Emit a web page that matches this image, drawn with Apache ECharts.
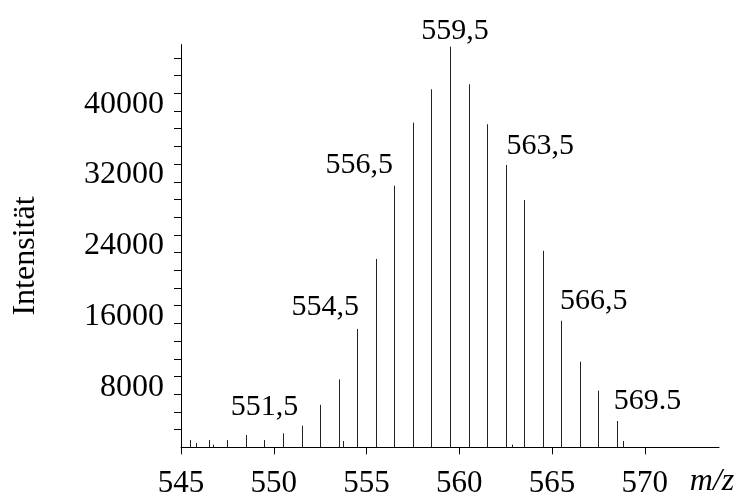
<!DOCTYPE html>
<html>
<head>
<meta charset="utf-8">
<script src="https://cdn.jsdelivr.net/npm/echarts@6/dist/echarts.min.js"></script>
<style>
  html, body { margin: 0; padding: 0; background: #fff; }
  #chart { width: 741px; height: 504px; }
</style>
</head>
<body>
<div id="chart"></div>
<script>
// Isotope pattern: main peaks (m/z, intensity)
const peakMz = [545.5, 546.5, 547.5, 548.5, 549.5, 550.5, 551.5, 552.5, 553.5, 554.5, 555.5, 556.5,
                557.5, 558.5, 559.5, 560.5, 561.5, 562.5, 563.5, 564.5, 565.5, 566.5, 567.5, 568.5];
const peakInt = [820, 820, 820, 1390, 820, 1580, 2440, 4800, 7680, 13370, 21280, 29560,
                 36680, 40450, 45270, 41020, 36500, 31900, 27940, 22200, 14300, 9670, 6400, 2970];

// Small satellite signals
const minorMz = [545.82, 546.73, 553.72, 562.84, 568.82];
const minorInt = [490, 300, 710, 300, 710];

// Annotated peak labels
const labelMz = [551.5, 554.5, 556.5, 559.5, 563.5, 566.5, 569.5];
const labelText = ['551,5', '554,5', '556,5', '559,5', '563,5', '566,5', '569.5'];

// Axis ticks
const xTicks = [545, 550, 555, 560, 565, 570];
const yLabels = [8000, 16000, 24000, 32000, 40000];
const yTickMarks = [2000, 4000, 6000, 8000, 10000, 12000, 14000, 16000, 18000, 20000, 22000,
                    24000, 26000, 28000, 30000, 32000, 34000, 36000, 38000, 40000, 42000, 44000];

// Pixel offsets of each annotation relative to its peak top
const labelOffset = [[-37, -19], [-32, -22], [-35, -21], [5, -16], [16, -54], [14, -61], [12, -46]];

const FONT = '"Liberation Serif", "Times New Roman", serif';

const stickData = [];
peakMz.forEach((m, i) => stickData.push([m, peakInt[i]]));
minorMz.forEach((m, i) => stickData.push([m, minorInt[i]]));

const labelData = labelMz.map((m, i) => {
  const k = peakMz.indexOf(m);
  return {
    value: [m, k >= 0 ? peakInt[k] : 0],
    label: { offset: labelOffset[i] }
  };
});

const chart = echarts.init(document.getElementById('chart'), null, { renderer: 'canvas' });

chart.setOption({
  animation: false,
  backgroundColor: '#fff',
  grid: { left: 181, right: 22, top: 44.6, bottom: 56.7 },
  xAxis: {
    type: 'value',
    min: 545,
    max: 574,
    interval: 5,
    axisLine: { show: true, lineStyle: { color: '#000', width: 1 } },
    axisTick: { show: true, customValues: xTicks, length: 7, lineStyle: { color: '#000' } },
    axisLabel: {
      customValues: xTicks,
      formatter: function (v) { return String(v); },
      color: '#000',
      fontFamily: FONT,
      fontSize: 31,
      lineHeight: 34,
      margin: 20
    },
    splitLine: { show: false }
  },
  yAxis: {
    type: 'value',
    min: 0,
    max: 45500,
    interval: 8000,
    axisLine: { show: true, lineStyle: { color: '#000', width: 1 } },
    axisTick: { show: true, customValues: yTickMarks, length: 7, lineStyle: { color: '#000' } },
    axisLabel: {
      customValues: yLabels,
      formatter: function (v) { return String(v); },
      color: '#000',
      fontFamily: FONT,
      fontSize: 32,
      lineHeight: 22,
      verticalAlign: 'top',
      margin: 17
    },
    splitLine: { show: false }
  },
  graphic: [
    {
      type: 'text',
      x: 26, y: 256,
      rotation: Math.PI / 2,
      style: {
        text: 'Intensität',
        font: '32px ' + FONT,
        fill: '#000',
        align: 'center',
        verticalAlign: 'middle'
      }
    },
    {
      type: 'text',
      x: 712, y: 482,
      style: {
        text: 'm/z',
        font: 'italic 32px ' + FONT,
        fill: '#000',
        align: 'center',
        verticalAlign: 'middle'
      }
    }
  ],
  series: [
    {
      type: 'custom',
      silent: true,
      data: stickData,
      encode: { x: 0, y: 1 },
      renderItem: function (params, api) {
        const m = api.value(0);
        const v = api.value(1);
        const p0 = api.coord([m, 0]);
        const p1 = api.coord([m, v]);
        const px = Math.round(p0[0]) + 0.5;
        return {
          type: 'line',
          shape: { x1: px, y1: p0[1], x2: px, y2: p1[1] },
          style: { stroke: '#222', lineWidth: 1 }
        };
      }
    },
    {
      type: 'scatter',
      silent: true,
      symbolSize: 0,
      itemStyle: { opacity: 1, color: '#000' },
      data: labelData,
      label: {
        show: true,
        position: 'inside',
        align: 'center',
        verticalAlign: 'middle',
        color: '#000',
        opacity: 1,
        textBorderWidth: 0,
        fontFamily: FONT,
        fontSize: 30,
        formatter: function (p) { return labelText[p.dataIndex]; }
      }
    }
  ]
});
</script>
</body>
</html>
